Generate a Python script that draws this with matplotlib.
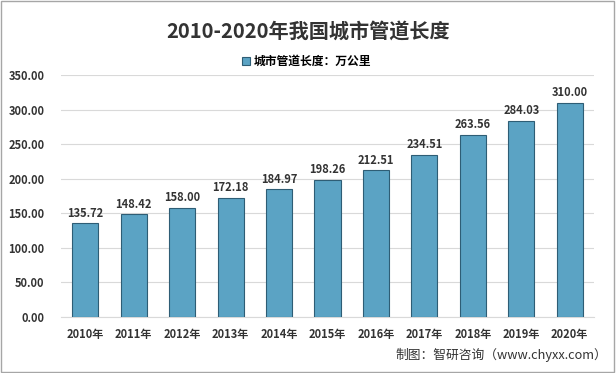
import matplotlib.pyplot as plt
from matplotlib.patches import Rectangle

plt.rcParams['font.family'] = ['Noto Sans CJK SC', 'DejaVu Sans']

# data
years = ['2010年', '2011年', '2012年', '2013年', '2014年', '2015年',
         '2016年', '2017年', '2018年', '2019年', '2020年']
length = [135.72, 148.42, 158.00, 172.18, 184.97, 198.26,
          212.51, 234.51, 263.56, 284.03, 310.00]

fig = plt.figure(figsize=(6.16, 3.73), dpi=100)
ax = fig.add_axes([61 / 616, 1 - 317 / 373, 533 / 616, 242 / 373])

x = range(len(years))
ax.bar(x, length, width=0.54, color='#5ba3c4', edgecolor='#2e5d75',
       linewidth=0.8, label='城市管道长度：万公里', zorder=3)
for i, v in zip(x, length):
    ax.text(i, v + 5, f'{v:.2f}', ha='center', va='bottom',
            fontsize=8, fontweight='bold', color='#333333')

ax.set_xlim(-0.5, len(years) - 0.5)
ax.set_ylim(0, 350)
ax.set_yticks(range(0, 351, 50))
ax.set_yticklabels([f'{t:.2f}' for t in range(0, 351, 50)])
ax.set_xticks(list(x))
ax.set_xticklabels(years)
ax.tick_params(axis='both', length=0, labelsize=8, colors='#333333')
for lab in ax.get_xticklabels() + ax.get_yticklabels():
    lab.set_fontweight('bold')
ax.tick_params(axis='x', pad=8)
ax.tick_params(axis='y', pad=12)
ax.grid(axis='y', color='#d9d9d9', linewidth=0.8, zorder=0)
for s in ['top', 'right', 'left']:
    ax.spines[s].set_visible(False)
ax.spines['bottom'].set_color('#d9d9d9')

fig.text(0.5, 1 - 31 / 373, '2010-2020年我国城市管道长度', ha='center', va='center',
         fontsize=14.5, fontweight='bold', color='#333333')
ax.legend(loc='center', bbox_to_anchor=(0.46, 1.055), frameon=False,
          handlelength=0.7, handleheight=0.7, handletextpad=0.3,
          prop={'weight': 'bold', 'size': 8.5})
fig.text(0.985, 1 - 355 / 373, '制图：智研咨询（www.chyxx.com）', ha='right', va='center',
         fontsize=9.2, color='#333333')

fig.patches.append(Rectangle((0.002, 0.003), 0.994, 0.993, transform=fig.transFigure,
                             fill=False, edgecolor='#a6a6a6', linewidth=1))

fig.savefig('out.png', dpi=100)
